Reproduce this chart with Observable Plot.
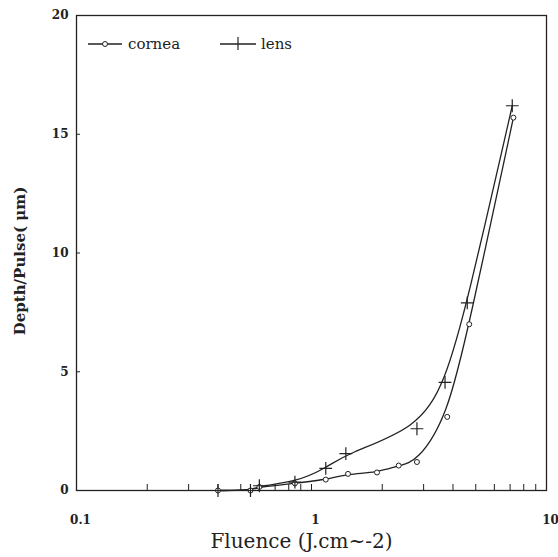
<!DOCTYPE html>
<html><head><meta charset="utf-8">
<script src="https://cdn.jsdelivr.net/npm/d3@7"></script>
<script src="https://cdn.jsdelivr.net/npm/@observablehq/plot@0.6"></script>
<style>
body{margin:0;background:#fff}
#wrap{position:relative;width:558px;height:557px}
#legend{position:absolute;left:0;top:0}
#legend text{font-family:"DejaVu Serif",serif;font-size:15px;fill:#222}
</style></head><body><div id="wrap"></div>
<script>
// Data
const corneaX = [0.40, 0.55, 0.60, 0.85, 1.15, 1.43, 1.90, 2.35, 2.81, 3.78, 4.69, 7.23];
const corneaY = [0, 0, 0.15, 0.30, 0.46, 0.70, 0.76, 1.05, 1.20, 3.10, 7.00, 15.7];
const lensX = [0.40, 0.55, 0.60, 0.85, 1.15, 1.40, 2.81, 3.70, 4.60, 7.15];
const lensY = [0, 0, 0.20, 0.35, 0.93, 1.55, 2.60, 4.55, 7.90, 16.2];
const seriesNames = ["cornea", "lens"];
const xMajor = [0.1, 1, 10];
const xMinor = [0.2, 0.3, 0.4, 0.5, 0.6, 0.7, 0.8, 0.9, 1, 2, 3, 4, 5, 6, 7, 8, 9];
const yTicks = [0, 5, 10, 15, 20];
const xLabel = "Fluence (J.cm~-2)";
const yLabel = "Depth/Pulse( μm)";

const W = 558, H = 557, mL = 76, mR = 12, mT = 15, mB = 67;
const innerW = W - mL - mR, innerH = H - mT - mB;
const cornea = corneaX.map((x, i) => ({x, y: corneaY[i]}));
const lens = lensX.map((x, i) => ({x, y: lensY[i]}));
const font = "'DejaVu Serif', serif";

const chart = Plot.plot({
  width: W, height: H,
  marginLeft: mL, marginRight: mR, marginTop: mT, marginBottom: mB,
  style: {fontFamily: font, background: "#fff", color: "#222"},
  x: {type: "log", domain: [0.1, 10]},
  y: {domain: [0, 20]},
  marks: [
    Plot.frame({stroke: "#222", strokeWidth: 1.3}),
    Plot.tickX(xMinor, {x: d => d, insetTop: innerH - 6, stroke: "#222"}),
    Plot.tickY(yTicks.slice(1, -1), {y: d => d, insetRight: innerW - 4, stroke: "#222"}),
    Plot.axisX(xMajor, {tickSize: 0, tickPadding: 25, dx: 4, tickFormat: d => String(d), fontSize: 12, fontWeight: "bold", label: null}),
    Plot.axisY(yTicks, {tickSize: 0, tickPadding: 8, fontSize: 12, fontWeight: "bold", label: null}),
    Plot.text([xLabel], {frameAnchor: "bottom", textAnchor: "middle", lineAnchor: "middle", dx: -10, dy: 51, fontSize: 20, fill: "#222"}),
    Plot.text([yLabel], {frameAnchor: "left", textAnchor: "middle", lineAnchor: "middle", dx: -56, dy: 8, rotate: -90, fontSize: 15, fontWeight: "bold", fill: "#222"}),
    Plot.line(cornea, {x: "x", y: "y", curve: "basis", stroke: "#222", strokeWidth: 1.3}),
    Plot.line(lens, {x: "x", y: "y", curve: "basis", stroke: "#222", strokeWidth: 1.3}),
    Plot.dot(cornea, {x: "x", y: "y", r: 2.5, fill: "#fff", stroke: "#222", strokeWidth: 1}),
    Plot.dot(lens, {x: "x", y: "y", symbol: "plus", r: 4.2, stroke: "#222", strokeWidth: 1.2})
  ]
});
const wrap = document.getElementById("wrap");
wrap.appendChild(chart);

// Legend inside the plot area (top-left)
const ns = "http://www.w3.org/2000/svg";
const leg = document.createElementNS(ns, "svg");
leg.setAttribute("id", "legend");
leg.setAttribute("width", 320); leg.setAttribute("height", 70);
const items = [
  {name: seriesNames[0], x0: 88, x1: 122, sym: "circle", tx: 128},
  {name: seriesNames[1], x0: 220, x1: 256, sym: "plus", tx: 261}
];
for (const it of items) {
  const ln = document.createElementNS(ns, "line");
  ln.setAttribute("x1", it.x0); ln.setAttribute("x2", it.x1);
  ln.setAttribute("y1", 44); ln.setAttribute("y2", 44);
  ln.setAttribute("stroke", "#222"); ln.setAttribute("stroke-width", 1.3);
  leg.appendChild(ln);
  const cx = (it.x0 + it.x1) / 2;
  if (it.sym === "circle") {
    const c = document.createElementNS(ns, "circle");
    c.setAttribute("cx", cx); c.setAttribute("cy", 44); c.setAttribute("r", 2.5);
    c.setAttribute("fill", "#fff"); c.setAttribute("stroke", "#222");
    leg.appendChild(c);
  } else {
    const v = document.createElementNS(ns, "line");
    v.setAttribute("x1", cx); v.setAttribute("x2", cx);
    v.setAttribute("y1", 37); v.setAttribute("y2", 50);
    v.setAttribute("stroke", "#222"); v.setAttribute("stroke-width", 1.2);
    leg.appendChild(v);
  }
  const t = document.createElementNS(ns, "text");
  t.setAttribute("x", it.tx); t.setAttribute("y", 49);
  t.textContent = it.name;
  leg.appendChild(t);
}
wrap.appendChild(leg);
</script>
</body></html>
